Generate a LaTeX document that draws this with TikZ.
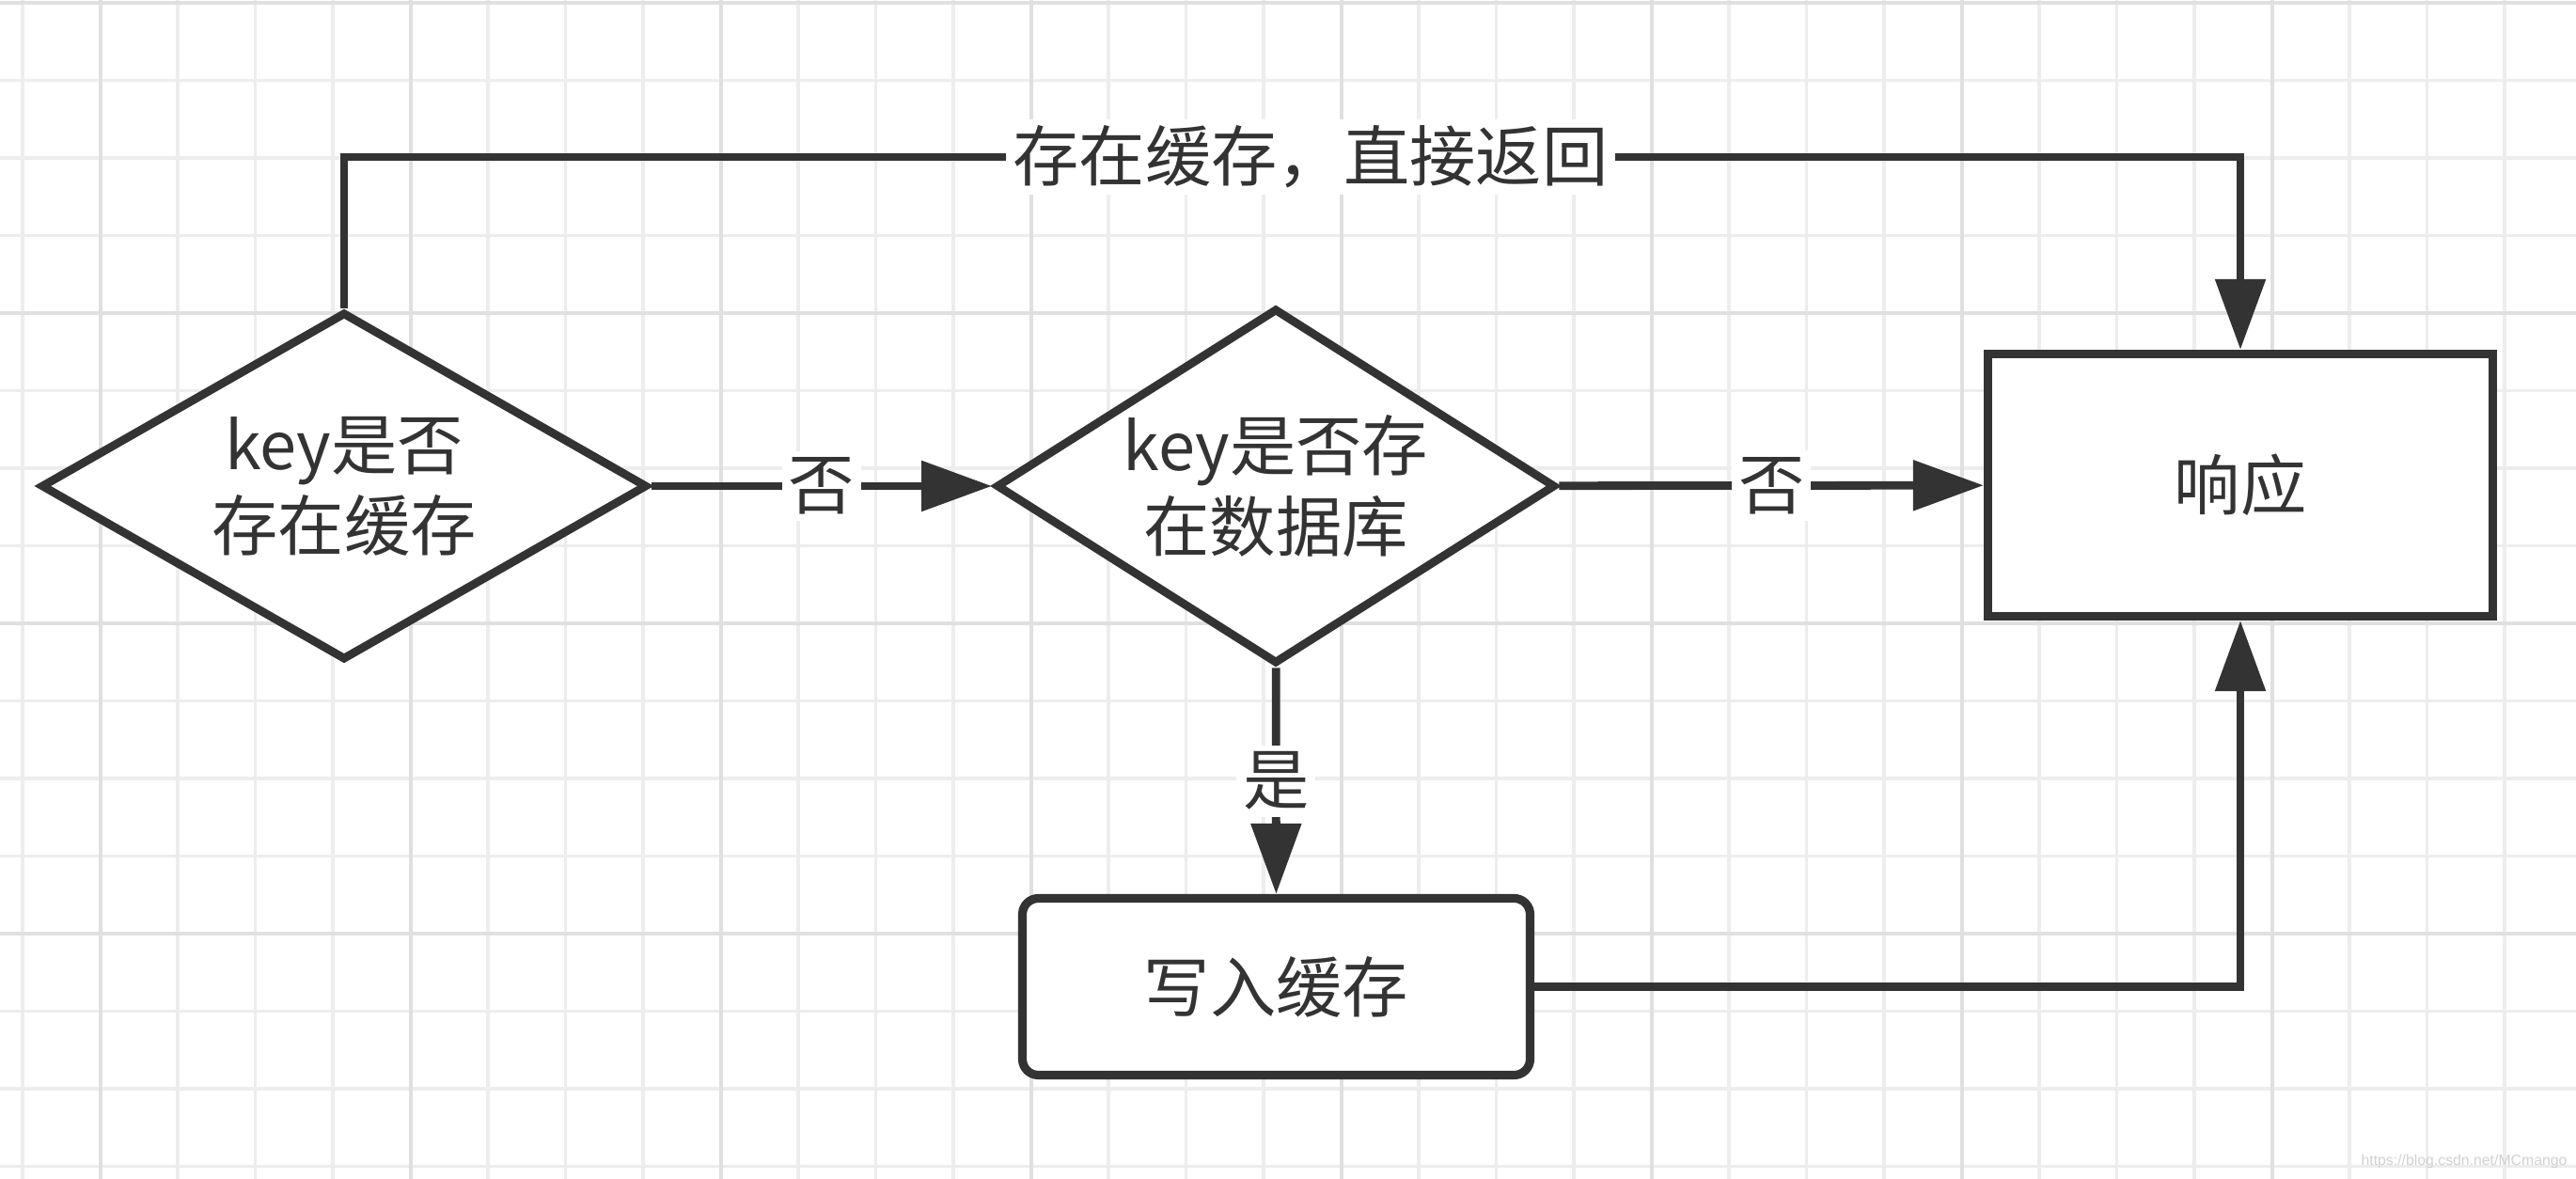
\documentclass[tikz,border=0pt]{standalone}
\usepackage{fontspec}
\setmainfont{Noto Sans CJK SC}
\newfontfamily\markfont{Liberation Sans}
\usetikzlibrary{shapes.geometric,arrows.meta}
\definecolor{ink}{HTML}{333333}
\tikzset{
decision/.style={
	  draw=ink, diamond, fill=white, line width=2.5pt,
	    inner sep=0pt, align=center, text=ink},
process/.style={
	  draw=ink, rectangle, fill=white, line width=2.6pt,
	    inner sep=0pt, align=center, text=ink}
}

\begin{document}
\begin{tikzpicture}[font=\fontsize{20}{24.5}\selectfont,
	minor/.style={draw=black!7, line width=1pt},
	major/.style={draw=black!12, line width=1.1pt},
	line/.style={draw=ink, line width=2.5pt},
	flow/.style={line, -{Triangle[length=7.5mm, width=5.2mm]}},
	lbl/.style={fill=white, text=ink, inner sep=2pt}]
	\fill[white] (0,0) rectangle (27.4,12.54);
	\useasboundingbox (0,0) rectangle (27.4,12.54);
	\foreach \k [evaluate=\k as \gx using 0.24+0.825*\k] in {0,...,32}
		\draw[minor] (\gx,0) -- (\gx,12.54);
	\foreach \k [evaluate=\k as \gy using 12.51-0.825*\k] in {0,...,15}
		\draw[minor] (0,\gy) -- (27.4,\gy);
	\foreach \gx in {1.07,4.37,7.67,10.97,14.27,17.57,20.87,24.17}
		\draw[major] (\gx,0) -- (\gx,12.54);
	\foreach \gy in {12.51,9.21,5.91,2.61}
		\draw[major] (0,\gy) -- (27.4,\gy);

	\node[decision, aspect=1.74, minimum width=6.45cm, minimum height=3.7cm] (cache) at (3.66,7.37) {key是否\\存在缓存};
	\node[decision, aspect=1.57, minimum width=5.95cm, minimum height=3.78cm] (db) at (13.57,7.37) {key是否存\\在数据库};
	\node[process, minimum width=5.37cm, minimum height=2.79cm] (resp) at (23.83,7.38) {响应};
	\node[process, rounded corners=0.17cm, minimum width=5.4cm, minimum height=1.88cm] (write) at (13.575,2.045) {写入缓存};
	\node[lbl] (back) at (13.94,10.87) {存在缓存，直接返回};
	\node[text=black!18, font=\markfont\fontsize{4.5}{5}\selectfont] (mark) at (26.21,0.185) {https://blog.csdn.net/MCmango};

	\draw[line] (cache.north) |- (back.west);
	\draw[flow] (back.east) -| (resp.north);
	\draw[flow] (cache) -- node[lbl] {否} (db);
	\draw[flow] (db) -- node[lbl] {否} (resp);
	\draw[flow] (db) -- node[lbl] {是} (write);
	\draw[flow] (write.east) -| (resp.south);
\end{tikzpicture}
\end{document}
